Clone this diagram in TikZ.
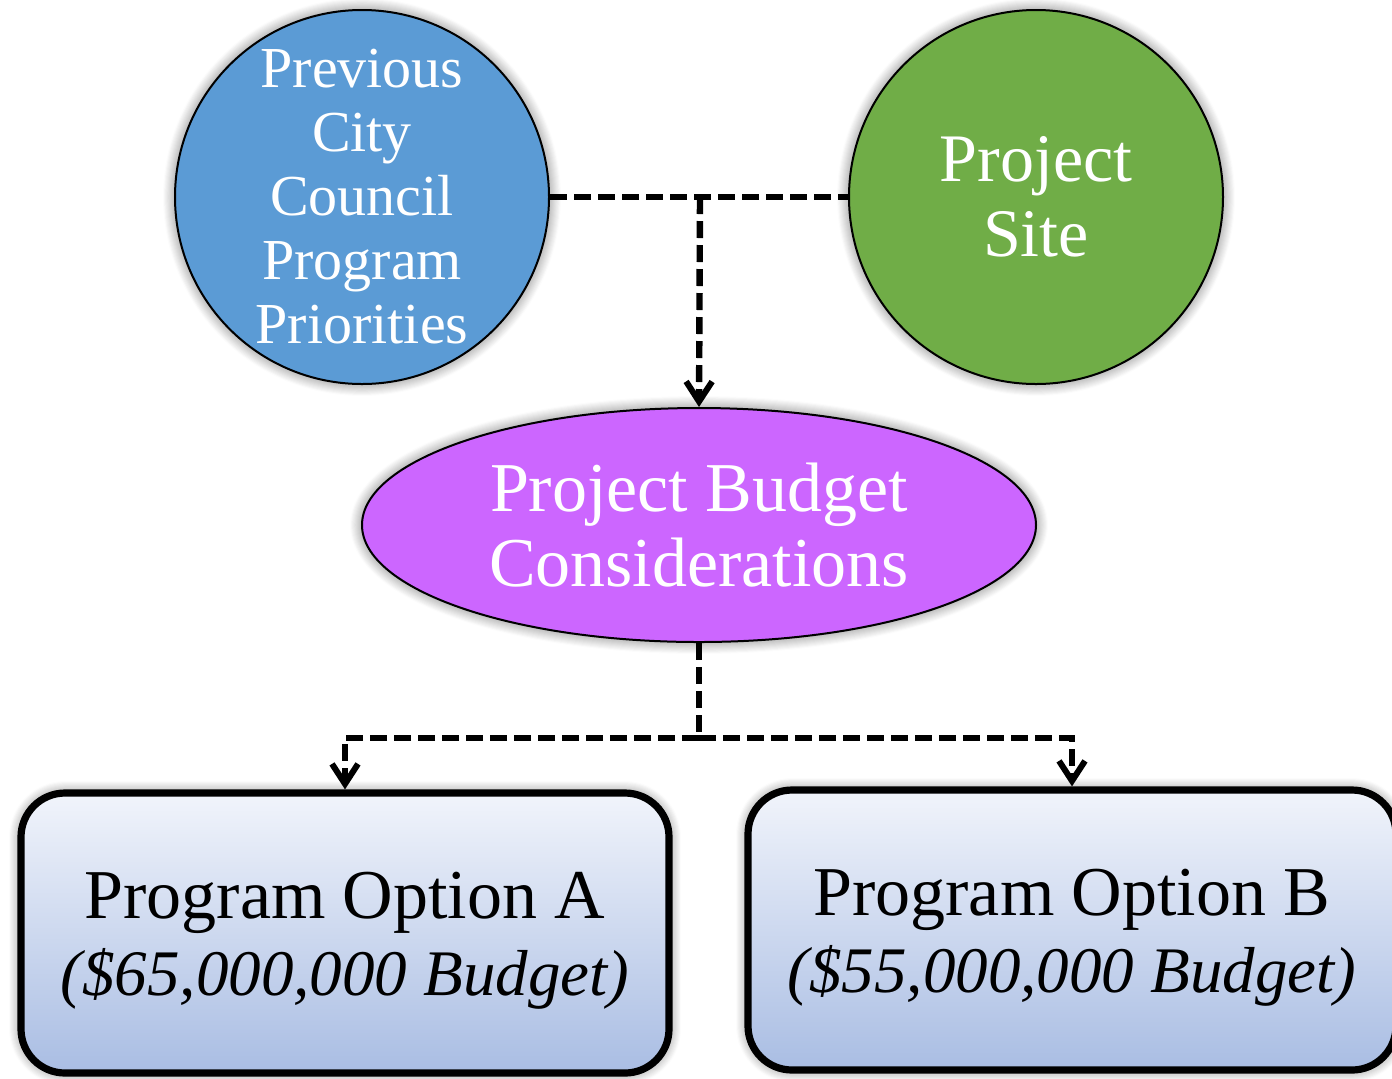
\documentclass[tikz,border=0pt]{standalone}
\usepackage{fontspec}
\setmainfont{Liberation Serif}
\usetikzlibrary{arrows.meta,shapes.geometric,shadows.blur}
\definecolor{cblue}{HTML}{5B9BD5}
\definecolor{cgreen}{HTML}{70AD47}
\definecolor{cpurple}{HTML}{CC66FF}
\definecolor{boxtop}{HTML}{F1F4FB}
\definecolor{boxbot}{HTML}{A9BDE3}
\begin{document}
\begin{tikzpicture}[x=0.5pt,y=-0.5pt,
  glow/.style={blur shadow={shadow xshift=0pt,shadow yshift=0pt,shadow blur radius=6pt,shadow opacity=55,shadow blur steps=12}},
  bubble/.style={circle,draw=black,line width=1pt,minimum size=187pt,inner sep=0pt,text=white,align=center,glow},
  oval/.style={ellipse,draw=black,line width=1pt,fill=cpurple,minimum width=337pt,minimum height=117pt,inner sep=0pt,text=white,align=center,glow},
  optbox/.style={rectangle,rounded corners=22pt,draw=black,line width=3.6pt,top color=boxtop,bottom color=boxbot,minimum width=324pt,minimum height=140pt,glow},
  optlabel/.style={align=center,yshift=-4pt,font=\fontsize{35}{38.5}\selectfont},
  conn/.style={line width=3.2pt,dash pattern=on 8.5pt off 3.5pt},
  tip/.style={-{Straight Barb[length=10pt,width=13pt,line width=3pt]}}
]
\useasboundingbox (0,0) rectangle (1392,1078);
\node[bubble,fill=cblue,font=\fontsize{29}{32}\selectfont] (prev) at (362,197) {Previous\\City\\Council\\Program\\Priorities};
\node[bubble,fill=cgreen,font=\fontsize{34}{37.5}\selectfont] (site) at (1036,197) {Project\\Site};
\node[oval,font=\fontsize{35}{37.5}\selectfont] (budget) at (699,525) {Project Budget\\Considerations};
\node[optbox,label={[optlabel]center:{Program Option A\\{\fontsize{32.5}{38.5}\selectfont\itshape (\$65,000,000 Budget)}}}] (optA) at (345,933) {};
\node[optbox,label={[optlabel]center:{Program Option B\\{\fontsize{32.5}{38.5}\selectfont\itshape (\$55,000,000 Budget)}}}] (optB) at (1072,930) {};
\coordinate (j1) at (700,197);
\coordinate (j2) at (699,738);
\draw[conn] (prev.east) -- (site.west);
\draw[conn,tip] (j1) -- (budget.north);
\draw[conn] (budget.south) -- (j2);
\draw[conn,tip] (j2) -| (optA.north);
\draw[conn,tip] (j2) -| (optB.north);
\end{tikzpicture}
\end{document}
